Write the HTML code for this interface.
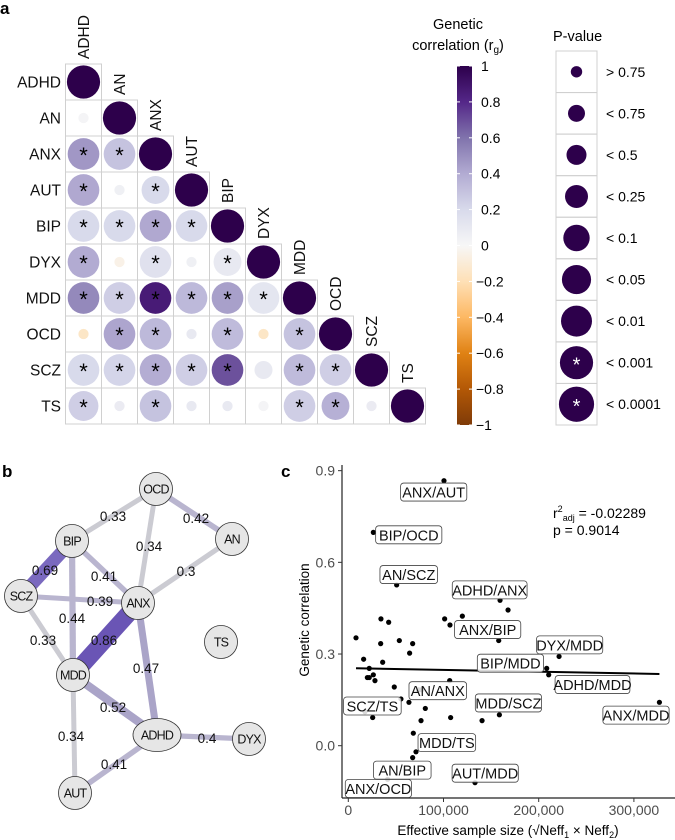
<!DOCTYPE html>
<html><head><meta charset="utf-8">
<style>
html,body{margin:0;padding:0;background:#fff;}
svg{display:block;font-family:"Liberation Sans",Arial,sans-serif;}
</style></head>
<body>
<svg id="fig" width="675" height="840" viewBox="0 0 675 840">
<defs>
<linearGradient id="puor" x1="0" y1="0" x2="0" y2="1">
<stop offset="0" stop-color="#2d004b"/><stop offset="0.1" stop-color="#542788"/>
<stop offset="0.2" stop-color="#8073ac"/><stop offset="0.3" stop-color="#b2abd2"/>
<stop offset="0.4" stop-color="#d8daeb"/><stop offset="0.5" stop-color="#f7f7f7"/>
<stop offset="0.6" stop-color="#fee0b6"/><stop offset="0.7" stop-color="#fdb863"/>
<stop offset="0.8" stop-color="#e08214"/><stop offset="0.9" stop-color="#b35806"/>
<stop offset="1" stop-color="#7f3b08"/>
</linearGradient>
</defs>
<text x="0" y="14" font-size="17" font-weight="bold">a</text>
<text x="2" y="477" font-size="17" font-weight="bold">b</text>
<text x="281" y="477" font-size="17" font-weight="bold">c</text>
<g id="pa"></g>
<g id="leg"></g>
<g id="pb"></g>
<g id="pc"></g>
</svg>
<script>
// ---------- Panel a data ----------
const traits = ["ADHD","AN","ANX","AUT","BIP","DYX","MDD","OCD","SCZ","TS"];
const rgRows = [
 [],
 [0.02],
 [0.47,0.30],
 [0.41,0.05,0.20],
 [0.20,0.20,0.41,0.20],
 [0.40,-0.05,0.15,0.05,0.10],
 [0.52,0.25,0.86,0.34,0.44,0.12],
 [-0.15,0.42,0.34,0.10,0.33,-0.15,0.30],
 [0.20,0.22,0.39,0.25,0.69,0.10,0.33,0.25],
 [0.25,0.08,0.30,0.10,0.10,0.02,0.25,0.38,0.08]
];
const pRows = [
 [],
 [0],
 [8,8],
 [8,0,6],
 [8,8,8,8],
 [8,0,8,0,6],
 [8,8,8,8,8,8],
 [0,8,8,0,8,0,8],
 [8,8,8,8,8,2,8,8],
 [7,0,8,0,0,0,8,6,0]
];
const pLabels = ["> 0.75","< 0.75","< 0.5","< 0.25","< 0.1","< 0.05","< 0.01","< 0.001","< 0.0001"];
const pRadii = [5.7,8.5,10,11.5,13.2,14.6,15.5,16.6,17.6];
const cbTicks = [1,0.8,0.6,0.4,0.2,0,-0.2,-0.4,-0.6,-0.8,-1];
const cbTickText = ["1","0.8","0.6","0.4","0.2","0","\u22120.2","\u22120.4","\u22120.6","\u22120.8","\u22121"];

// ---------- Panel b data ----------
const nodeNames = ["OCD","AN","BIP","SCZ","ANX","TS","MDD","ADHD","DYX","AUT"];
const nodeX = [156,232,72,21,138,221,73,157,249,75];
const nodeY = [489,539,541,596,603,642,675,735,739,793];
const edgeFrom = ["OCD","OCD","OCD","BIP","BIP","BIP","AN","SCZ","SCZ","ANX","ANX","MDD","MDD","ADHD","ADHD"];
const edgeTo   = ["BIP","AN","ANX","SCZ","ANX","MDD","ANX","ANX","MDD","MDD","ADHD","ADHD","AUT","DYX","AUT"];
const edgeW    = [0.33,0.42,0.34,0.69,0.41,0.44,0.3,0.39,0.33,0.86,0.47,0.52,0.34,0.4,0.41];
const edgeLabX = [113,196,149,45,104,72,186,100,43,104,146,113,71,207,114];
const edgeLabY = [516,518,546,570,576,618,571,601,640,640,668,707,736,738,764];

// ---------- Panel c data ----------
const scN = [100.5,26.3,50.8,159.4,167.8,119.8,101.2,106.8,34.3,42.4,8.1,53.6,34,67.6,158,64.4,221.4,16.1,36.1,22,208.4,26.3,210.5,20,22,28,106.5,48.3,73.6,77,55.3,63.7,80.9,326.8,17.5,158.7,25.6,107.5,140.5,76.4,68.3,71.1,67.6,41.3,133.1];
const scR = [0.867,0.698,0.526,0.476,0.444,0.424,0.415,0.395,0.415,0.404,0.353,0.344,0.334,0.334,0.344,0.303,0.292,0.283,0.273,0.253,0.253,0.232,0.232,0.223,0.223,0.213,0.213,0.192,0.183,0.183,0.153,0.142,0.122,0.142,0.111,0.101,0.092,0.092,0.082,0.082,0.041,-0.02,-0.039,-0.11,-0.121];
const pairLabels = ["ANX/AUT","BIP/OCD","AN/SCZ","ADHD/ANX","ANX/BIP","DYX/MDD","BIP/MDD","ADHD/MDD","AN/ANX","MDD/SCZ","SCZ/TS","ANX/MDD","MDD/TS","AN/BIP","AUT/MDD","ANX/OCD"];
const pairLabN = [89.7,63.5,63.5,148.5,146.4,232.5,170.3,256.5,94,168.2,25.3,302.2,103.5,56.7,143.8,31.6];
const pairLabR = [0.83,0.69,0.56,0.51,0.38,0.33,0.27,0.20,0.18,0.14,0.13,0.10,0.01,-0.08,-0.09,-0.14];
const xTicks = [0,100000,200000,300000];
const xTickText = ["0","100,000","200,000","300,000"];
const yTicks = [0,0.3,0.6,0.9];
const yTickText = ["0.0","0.3","0.6","0.9"];

const NS="http://www.w3.org/2000/svg";
function mk(tag, attrs, parent, text){
  const e=document.createElementNS(NS,tag);
  for(const k in attrs) e.setAttribute(k,attrs[k]);
  if(text!==undefined) e.textContent=text;
  parent.appendChild(e); return e;
}
const stops=[[1,[45,0,75]],[0.8,[84,39,136]],[0.6,[128,115,172]],[0.4,[178,171,210]],[0.2,[216,218,235]],[0,[247,247,247]],[-0.2,[254,224,182]],[-0.4,[253,184,99]],[-0.6,[224,130,20]],[-0.8,[179,88,6]],[-1,[127,59,8]]];
function col(v){
  v=Math.max(-1,Math.min(1,v));
  for(let i=0;i<stops.length-1;i++){
    const a=stops[i],b=stops[i+1];
    if(v<=a[0]&&v>=b[0]){const t=(a[0]-v)/(a[0]-b[0]);
      const c=a[1].map((x,k)=>Math.round(x+(b[1][k]-x)*t));
      return `rgb(${c[0]},${c[1]},${c[2]})`;}
  }
  return "#fff";
}

// ---------- Panel a ----------
const pa=document.getElementById('pa');
const X0=65.5,Y0=64,C=36;
for(let i=0;i<10;i++){
  const lab=mk('text',{x:61,y:Y0+C*i+C/2+5.5,'text-anchor':'end','font-size':15.5,fill:'#111'},pa,traits[i]);
  
  
  const cx=X0+C*i+C/2, top=Y0+C*i-5;
  const cl=mk('text',{x:0,y:0,transform:`translate(${cx+5.5},${top}) rotate(-90)`,'font-size':15.5,fill:'#111'},pa,traits[i]);
  
  
  for(let j=0;j<=i;j++){
    const x=X0+C*j,y=Y0+C*i;
    mk('rect',{x:x,y:y,width:C,height:C,fill:'none',stroke:'#d0d0d0','stroke-width':1},pa);
    let v,p;
    if(i===j){v=1;p=-1;} else {v=rgRows[i][j];p=pRows[i][j];}
    const r = i===j?16.6:pRadii[p]*0.9;
    const c=mk('circle',{cx:x+C/2,cy:y+C/2,r:r,fill:col(v)},pa);
    
    
    if(i!==j && p>=6) mk('text',{x:x+C/2,y:y+C/2+9,'text-anchor':'middle','font-size':22,fill:'#000'},pa,'*');
  }
}

// ---------- Legends ----------
const lg=document.getElementById('leg');
mk('text',{x:458,y:29,'text-anchor':'middle','font-size':14.5},lg,'Genetic');
const t2=mk('text',{x:458,y:50,'text-anchor':'middle','font-size':14.5},lg,'correlation (r');
mk('tspan',{'font-size':10,dy:3},t2,'g');
mk('tspan',{dy:-3},t2,')');
const cbTop=66,cbBot=425;
const cb=mk('rect',{x:457,y:cbTop,width:15,height:cbBot-cbTop,fill:'url(#puor)'},lg);


cbTicks.forEach((v,k)=>{
  const y=cbTop+(1-v)/2*(cbBot-cbTop);
  mk('line',{x1:469,x2:472,y1:y,y2:y,stroke:'#fff','stroke-width':1},lg);
  mk('line',{x1:457,x2:460,y1:y,y2:y,stroke:'#fff','stroke-width':1},lg);
  mk('text',{x:v<0?476:481,y:y+5,'font-size':14},lg,cbTickText[k]);
});
mk('text',{x:553,y:41,'font-size':14.5},lg,'P-value');
const bh=(425-51)/9;
pLabels.forEach((l,k)=>{
  const y=51+bh*k;
  mk('rect',{x:556,y:y,width:41,height:bh,fill:'none',stroke:'#d0d0d0'},lg);
  const c=mk('circle',{cx:576.5,cy:y+bh/2,r:pRadii[k],fill:'#2d004b'},lg);
  
  
  if(k>=7) mk('text',{x:576.5,y:y+bh/2+9,'text-anchor':'middle','font-size':20,fill:'#fff'},lg,'*');
  mk('text',{x:606,y:y+bh/2+5,'font-size':14},lg,l);
});

// ---------- Panel b ----------
const pb=document.getElementById('pb');
function ecol(w){
  if(w>=0.8) return '#6a55b5';
  if(w>=0.6) return '#7a69bf';
  if(w>=0.45) return '#aaa4c8';
  if(w>=0.38) return '#b9b5cf';
  return '#cbcbd2';
}
function ewid(w){ return Math.max(5, (w-0.2)*26); }
edgeFrom.forEach((f,k)=>{
  const a=nodeNames.indexOf(f),b=nodeNames.indexOf(edgeTo[k]);
  const e=mk('line',{x1:nodeX[a],y1:nodeY[a],x2:nodeX[b],y2:nodeY[b],stroke:ecol(edgeW[k]),'stroke-width':ewid(edgeW[k])},pb);
  
  
});
edgeFrom.forEach((f,k)=>{
  mk('text',{x:edgeLabX[k],y:edgeLabY[k]+5,'text-anchor':'middle','font-size':13.5,fill:'#111'},pb,String(edgeW[k]));
});
nodeNames.forEach((n,k)=>{
  const rx = n==='ADHD'?24:16.5;
  const nd=mk('ellipse',{cx:nodeX[k],cy:nodeY[k],rx:rx,ry:16.5,fill:'#e6e6e6',stroke:'#333','stroke-width':0.8},pb);
  
  
  mk('text',{x:nodeX[k],y:nodeY[k]+4.5,'text-anchor':'middle','font-size':12.5,'letter-spacing':'-0.8',fill:'#111'},pb,n);
});

// ---------- Panel c ----------
const pc=document.getElementById('pc');
const xs=v=>348.3+v*0.000952;
const ys=v=>745.7-v*305.6;
mk('line',{x1:342,y1:465,x2:342,y2:798,stroke:'#222','stroke-width':1.2},pc);
mk('line',{x1:342,y1:798,x2:675,y2:798,stroke:'#222','stroke-width':1.2},pc);
yTicks.forEach((v,k)=>{
  mk('line',{x1:338,x2:342,y1:ys(v),y2:ys(v),stroke:'#333'},pc);
  mk('text',{x:335,y:ys(v)+5,'text-anchor':'end','font-size':14,fill:'#4d4d4d'},pc,yTickText[k]);
});
xTicks.forEach((v,k)=>{
  mk('line',{x1:xs(v),x2:xs(v),y1:798,y2:802,stroke:'#333'},pc);
  mk('text',{x:xs(v),y:815,'text-anchor':'middle','font-size':14,fill:'#4d4d4d'},pc,xTickText[k]);
});
const yt=mk('text',{x:0,y:0,transform:'translate(309,620) rotate(-90)','text-anchor':'middle','font-size':13.5},pc,'Genetic correlation');


const xt=mk('text',{x:508,y:835,'text-anchor':'middle','font-size':13.5},pc,'Effective sample size (\u221ANeff');


mk('tspan',{'font-size':9,dy:3},xt,'1');
mk('tspan',{dy:-3},xt,' \u00d7 Neff');
mk('tspan',{'font-size':9,dy:3},xt,'2');
mk('tspan',{dy:-3},xt,')');
let n=scN.length,mx=0,my=0;
scN.forEach((v,i)=>{mx+=v;my+=scR[i];}); mx/=n; my/=n;
let sxy=0,sxx=0; scN.forEach((v,i)=>{sxy+=(v-mx)*(scR[i]-my);sxx+=(v-mx)*(v-mx);});
const slope=sxy/sxx, icpt=my-slope*mx;
const xmin=Math.min(...scN),xmax=Math.max(...scN);
const fl=mk('line',{x1:xs(xmin*1000),y1:ys(icpt+slope*xmin),x2:xs(xmax*1000),y2:ys(icpt+slope*xmax),stroke:'#000','stroke-width':2},pc);


scN.forEach((v,i)=>{
  const p=mk('circle',{cx:xs(v*1000),cy:ys(scR[i]),r:2.6,fill:'#000'},pc);
  
  
});
pairLabels.forEach((l,k)=>{
  const cx=xs(pairLabN[k]*1000), cy=ys(pairLabR[k]);
  const w=l.length*8.6+6;
  const r=mk('rect',{x:cx-w/2,y:cy-9,width:w,height:18,rx:3,fill:'rgba(255,255,255,0.85)',stroke:'#444','stroke-width':0.8},pc);
  
  
  mk('text',{x:cx,y:cy+5.5,'text-anchor':'middle','font-size':14.5,fill:'#111'},pc,l);
});
const an=mk('text',{x:553,y:518,'font-size':14},pc,'r');


mk('tspan',{'font-size':9,dy:-6},an,'2');
mk('tspan',{'font-size':9,dy:9},an,'adj');
mk('tspan',{dy:-3},an,' = -0.02289');
mk('text',{x:553,y:535,'font-size':14},pc,'p = 0.9014');
</script>
</body></html>
